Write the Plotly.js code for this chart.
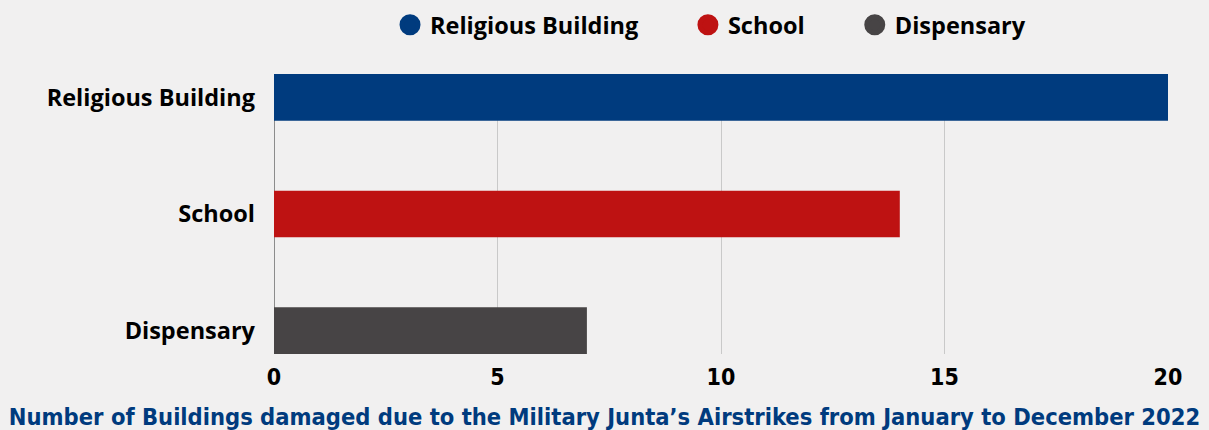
<!DOCTYPE html>
<html>
<head>
<meta charset="utf-8">
<script src="https://cdn.plot.ly/plotly-3.0.1.min.js"></script>
<style>
  html, body { margin: 0; padding: 0; background: #f1f0f0; }
  #chart { width: 1209px; height: 430px; }
</style>
</head>
<body>
<div id="chart"></div>
<script>
const categories = ["Religious Building", "School", "Dispensary"];
const values = [20, 14, 7];
const colors = ["#003b7e", "#be1212", "#474445"];
const xTicks = [0, 5, 10, 15, 20];
const chartTitle = "Number of Buildings damaged due to the Military Junta\u2019s Airstrikes from January to December 2022";

const labelFont = "'Open Sans', Lato, sans-serif";
const narrowFont = "'Liberation Sans Narrow', 'DejaVu Sans Condensed', 'Roboto', sans-serif";
const legendIds = ["legend", "legend2", "legend3"];
const legendX = [0.3226, 0.569, 0.707];

const traces = [{
  type: "bar",
  orientation: "h",
  y: categories,
  x: values,
  width: 0.4,
  marker: { color: colors },
  showlegend: false,
  hoverinfo: "x+y"
}];

categories.forEach((c, i) => {
  traces.push({
    type: "scatter",
    mode: "markers",
    x: [null],
    y: [null],
    name: "<b>" + c + "</b>",
    legend: legendIds[i],
    marker: { color: colors[i], size: 16, symbol: "circle", line: { color: colors[i], width: 5 } },
    showlegend: true
  });
});

const layout = {
  width: 1209,
  height: 430,
  paper_bgcolor: "#f1f0f0",
  plot_bgcolor: "rgba(0,0,0,0)",
  margin: { l: 274, r: 41, t: 74, b: 76 },
  font: { family: labelFont, color: "#000" },
  title: {
    text: "<b>" + chartTitle + "</b>",
    font: { family: narrowFont, size: 23.5, color: "#003b7e" },
    xref: "container", x: 0.5, xanchor: "center",
    yref: "container", y: 0.03, yanchor: "middle"
  },
  xaxis: {
    range: [0, 20],
    tickvals: xTicks,
    ticktext: xTicks.map(v => "<b>" + v + "</b>"),
    tickfont: { family: narrowFont, size: 23, color: "#000" },
    showgrid: true,
    gridcolor: "#c9c9c9",
    gridwidth: 1,
    zeroline: true,
    zerolinecolor: "#8c8c8c",
    zerolinewidth: 1,
    showline: false,
    ticks: "",
    ticklabelstandoff: 7,
    fixedrange: true
  },
  yaxis: {
    type: "category",
    categoryorder: "array",
    categoryarray: categories,
    range: [2.2, -0.2],
    tickvals: categories,
    ticktext: categories.map(c => "<b>" + c + "</b>"),
    tickfont: { family: labelFont, size: 23.5, color: "#000" },
    showgrid: false,
    zeroline: false,
    ticks: "",
    ticklabelstandoff: 18,
    fixedrange: true
  },
  bargap: 0.6
};

legendIds.forEach((id, i) => {
  layout[id] = {
    orientation: "h",
    x: legendX[i], xref: "container", xanchor: "left",
    y: 0.993, yref: "container", yanchor: "top",
    font: { family: labelFont, size: 23.5, color: "#000" },
    bgcolor: "rgba(0,0,0,0)",
    itemsizing: "trace"
  };
});

Plotly.newPlot("chart", traces, layout, { displayModeBar: false, staticPlot: true });
</script>
</body>
</html>
